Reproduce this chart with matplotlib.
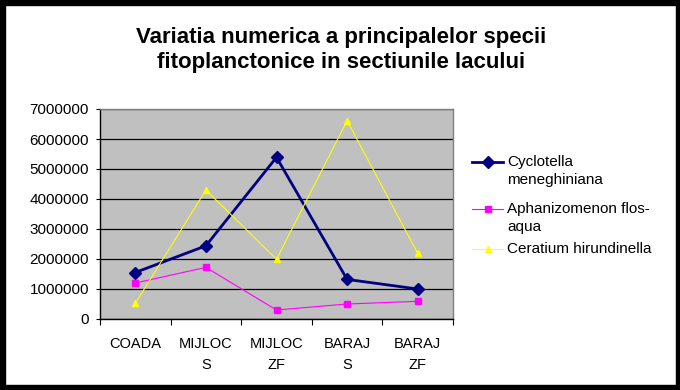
import matplotlib
matplotlib.use("Agg")
import matplotlib.pyplot as plt
from matplotlib.patches import Rectangle
from matplotlib.lines import Line2D

plt.rcParams['font.family'] = ['Liberation Sans', 'DejaVu Sans']

categories = ["COADA", "MIJLOC\nS", "MIJLOC\nZF", "BARAJ\nS", "BARAJ\nZF"]
cyclotella = [1550000, 2440000, 5390000, 1320000, 1000000]
aphanizomenon = [1200000, 1720000, 300000, 500000, 590000]
ceratium = [520000, 4300000, 1990000, 6610000, 2190000]
series_names = ["Cyclotella\nmeneghiniana", "Aphanizomenon flos-\naqua", "Ceratium hirundinella"]
yticks = [0, 1000000, 2000000, 3000000, 4000000, 5000000, 6000000, 7000000]

W, H = 680, 390
fig = plt.figure(figsize=(W / 100, H / 100), dpi=100)
fig.patch.set_facecolor("white")

ax = fig.add_axes([100 / W, (H - 319) / H, 353 / W, 210 / H])
ax.set_facecolor("#C0C0C0")

styles = [
    dict(color="#000080", lw=2.0, marker="D", ms=6.5),
    dict(color="#FF00FF", lw=0.8, marker="s", ms=5),
    dict(color="#FFFF00", lw=0.8, marker="^", ms=5),
]
data = [cyclotella, aphanizomenon, ceratium]

x = list(range(len(categories)))
for vals, st, name in zip(data, styles, series_names):
    ax.plot(x, vals, color=st["color"], lw=st["lw"], marker=st["marker"],
            ms=st["ms"], mfc=st["color"], mec=st["color"], label=name, zorder=3)

ax.set_xlim(-0.5, len(categories) - 0.5)
ax.set_ylim(0, 7000000)
ax.set_yticks(yticks)
ax.set_yticklabels([str(v) for v in yticks], fontsize=11)
ax.yaxis.grid(True, color="black", lw=0.9)
ax.set_axisbelow(True)

ax.set_xticks([i - 0.5 for i in range(len(categories) + 1)])
ax.set_xticklabels([])
ax.set_xticks(x, minor=True)
ax.set_xticklabels(categories, minor=True, fontsize=10.5, linespacing=1.65)
ax.tick_params(axis="x", which="minor", length=0, pad=13)
ax.tick_params(axis="x", which="major", length=4, direction="out", color="black")
ax.tick_params(axis="y", length=3, direction="out", pad=5)

for s in ["top", "right"]:
    ax.spines[s].set_color("#808080")
    ax.spines[s].set_linewidth(1)
for s in ["left", "bottom"]:
    ax.spines[s].set_color("black")
    ax.spines[s].set_linewidth(1)

fig.text(341 / W, 1 - 50 / H,
         "Variatia numerica a principalelor specii\nfitoplanctonice in sectiunile lacului",
         ha="center", va="center", fontsize=16, fontweight="bold", linespacing=1.25)

# legend drawn manually (handle aligned with first text line, as in the reference)
leg_y = [162, 209, 249]
for name, st, yy in zip(series_names, styles, leg_y):
    yf = 1 - yy / H
    fig.add_artist(Line2D([472 / W, 503 / W], [yf, yf], transform=fig.transFigure,
                          color=st["color"], lw=st["lw"]))
    fig.add_artist(Line2D([487.5 / W], [yf], transform=fig.transFigure,
                          color=st["color"], marker=st["marker"], ms=st["ms"],
                          mfc=st["color"], mec=st["color"], lw=0))
    fig.text(507 / W, 1 - (yy - 7.0) / H, name, ha="left", va="top",
             fontsize=11, linespacing=1.4)

fig.patches.append(Rectangle((0, 0), 1, 5 / H, transform=fig.transFigure, color="black"))
fig.patches.append(Rectangle((0, 1 - 5 / H), 1, 5 / H, transform=fig.transFigure, color="black"))
fig.patches.append(Rectangle((0, 0), 5 / W, 1, transform=fig.transFigure, color="black"))
fig.patches.append(Rectangle((1 - 4 / W, 0), 4 / W, 1, transform=fig.transFigure, color="black"))

fig.savefig("out.png", dpi=100)
